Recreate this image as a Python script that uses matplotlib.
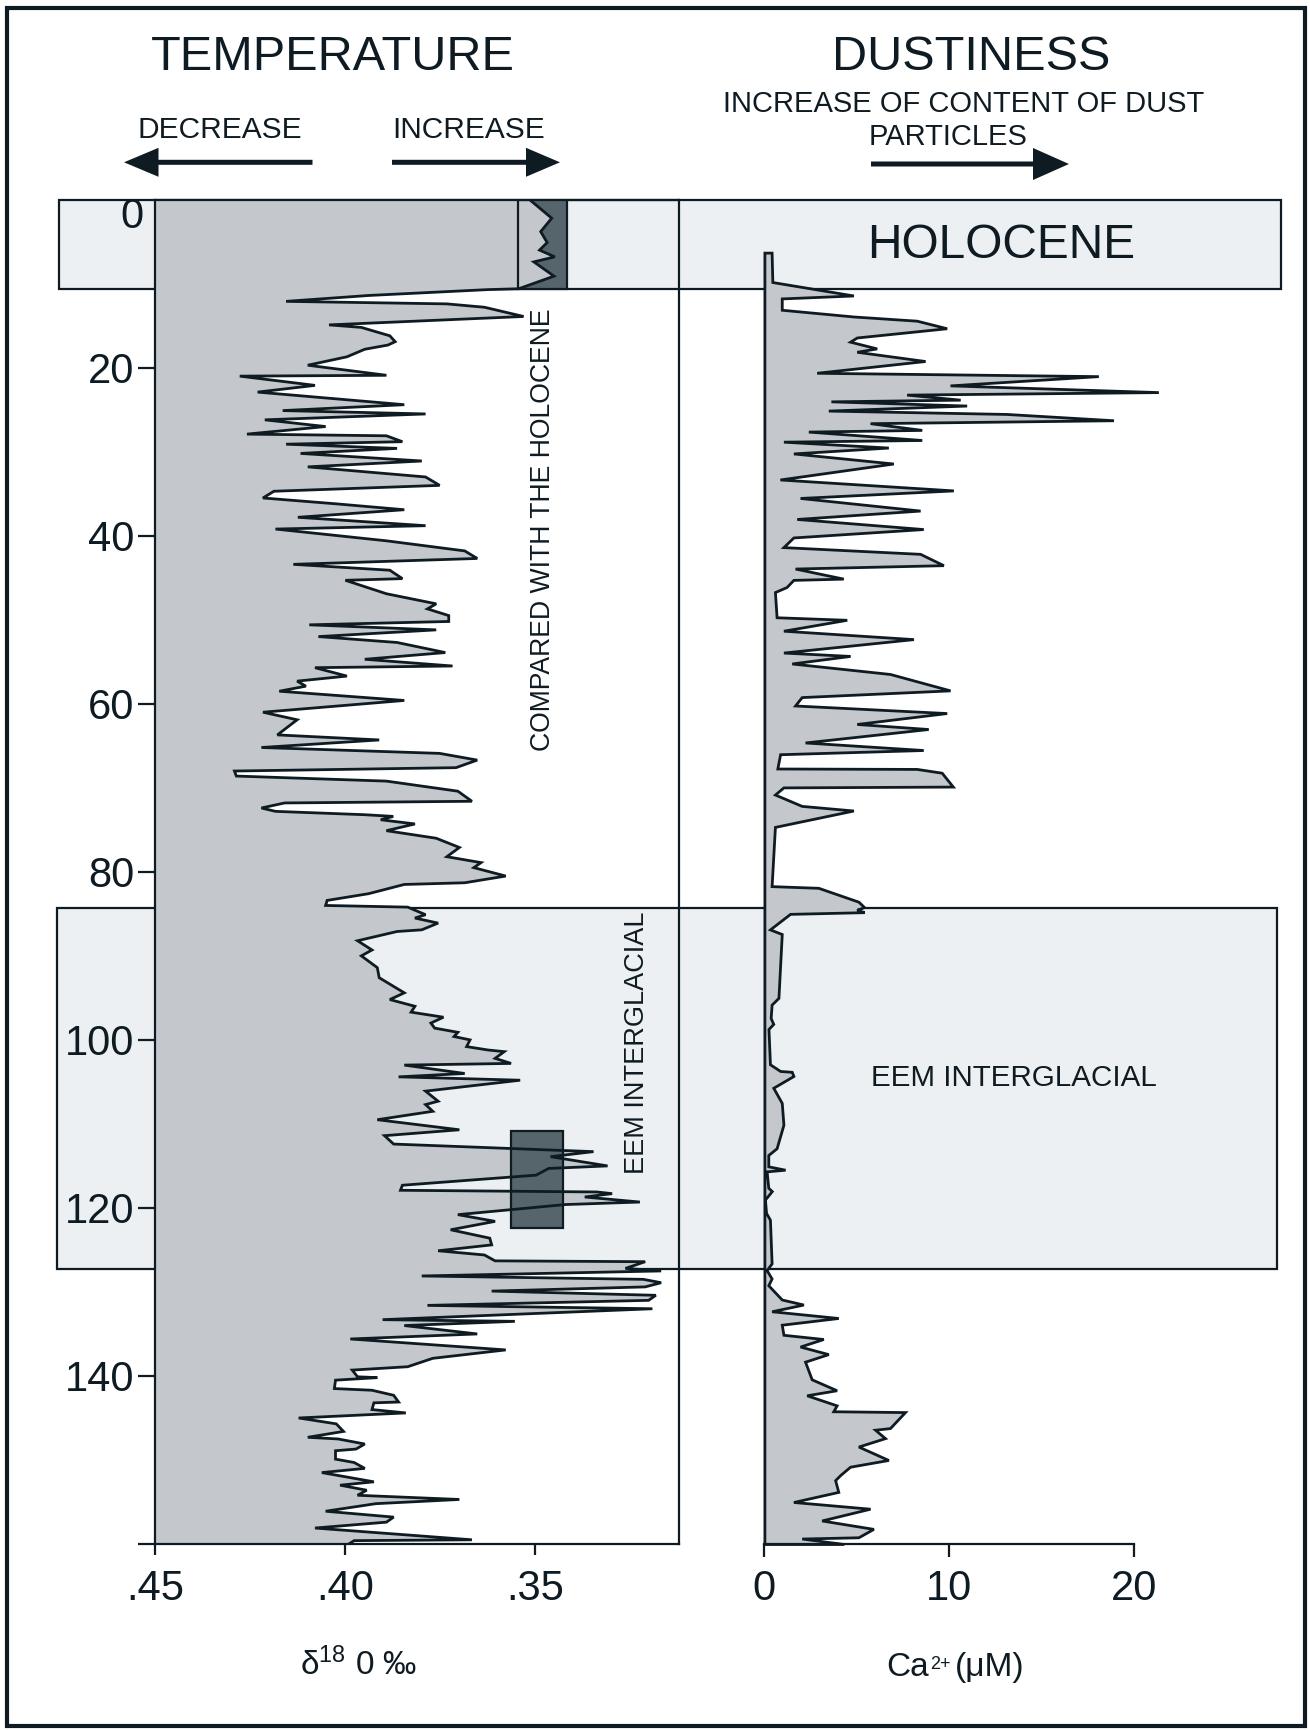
import numpy as np
import matplotlib
matplotlib.use("Agg")
import matplotlib.pyplot as plt
import matplotlib.transforms as mtransforms
from matplotlib.patches import Rectangle, FancyArrow

plt.rcParams['font.family'] = ['Liberation Sans', 'DejaVu Sans']
plt.rcParams['mathtext.fontset'] = 'custom'
plt.rcParams['mathtext.rm'] = 'Liberation Sans'
plt.rcParams['mathtext.it'] = 'Liberation Sans'

# ---------------- data ----------------
# age (thousand years before present) and delta-18O for the temperature record
age_t = [
    0.0, 2.2, 3.8, 5.1, 6.0, 6.8, 7.4, 9.1, 10.6, 10.7,
    11.4, 12.1, 12.4, 12.8, 13.9, 14.9, 15.2, 16.2, 16.9, 17.3,
    17.8, 18.7, 19.7, 20.9, 21.0, 22.1, 22.9, 24.4, 25.1, 25.5,
    26.2, 27.0, 27.9, 28.1, 28.8, 29.1, 29.6, 30.2, 31.1, 31.8,
    33.0, 34.0, 34.7, 35.5, 36.2, 36.9, 37.8, 38.8, 39.2, 40.6,
    41.8, 42.7, 43.4, 44.1, 45.1, 45.3, 46.9, 48.1, 48.7, 49.5,
    50.2, 50.6, 51.2, 52.0, 52.7, 53.9, 54.7, 55.5, 55.7, 56.7,
    57.3, 57.9, 58.5, 59.6, 61.0, 61.9, 63.7, 64.3, 65.2, 65.9,
    66.7, 67.6, 68.0, 68.6, 69.2, 70.4, 71.6, 71.8, 72.4, 72.8,
    73.2, 73.4, 73.8, 74.3, 75.1, 76.0, 77.1, 78.2, 78.9, 79.5,
    80.5, 81.3, 81.5, 82.6, 83.4, 84.0, 84.2, 85.1, 85.5, 86.1,
    86.9, 87.1, 87.5, 88.2, 89.3, 90.0, 91.4, 92.6, 94.4, 95.2,
    96.0, 96.7, 97.3, 98.0, 98.6, 99.1, 99.6, 100.0, 100.8, 101.2,
    101.4, 102.2, 102.8, 103.0, 104.0, 104.4, 104.8, 106.1, 107.3, 107.7,
    108.5, 109.5, 110.7, 111.4, 112.4, 113.3, 113.9, 115.0, 115.3, 116.1,
    117.3, 117.9, 118.1, 118.3, 118.7, 119.3, 119.6, 120.8, 121.6, 122.6,
    123.6, 124.4, 125.1, 125.6, 126.3, 126.4, 127.2, 127.5, 128.1, 128.5,
    128.9, 129.4, 129.9, 130.4, 131.0, 131.6, 132.0, 133.3, 133.5, 134.0,
    135.0, 135.6, 136.9, 137.9, 138.9, 139.3, 140.1, 140.2, 140.5, 141.5,
    141.7, 142.3, 143.1, 143.2, 144.0, 144.4, 145.0, 145.7, 146.6, 147.3,
    147.5, 148.1, 148.7, 148.9, 149.9, 150.3, 151.0, 151.5, 152.6, 153.0,
    153.6, 154.2, 154.7, 155.2, 156.1, 156.8, 157.4, 158.1, 159.5, 159.6,
    160.0,
]
d18o = [
    .3515, .3457, .3486, .3469, .3489, .3449, .3504, .3451, .3544, .3625,
    .3939, .4156, .3733, .3634, .3531, .4043, .3958, .3883, .3869, .3888,
    .3949, .3996, .4099, .3892, .4278, .4080, .4231, .3845, .4165, .3789,
    .4212, .4052, .4259, .3892, .3850, .4156, .3864, .4118, .3799, .4099,
    .3789, .3752, .4188, .4217, .4024, .3845, .4125, .3789, .4184, .3892,
    .3686, .3653, .4137, .3883, .3850, .4000, .3892, .3761, .3784, .3728,
    .3728, .4095, .3761, .4071, .3864, .3737, .3949, .3718, .4080, .3996,
    .4127, .4104, .4174, .3845, .4217, .4127, .4179, .3911, .4221, .3752,
    .3653, .3709, .4292, .4287, .3892, .3704, .3667, .4160, .4221, .4184,
    .3949, .3874, .3907, .3817, .3892, .3761, .3700, .3733, .3643, .3662,
    .3578, .3686, .3845, .3939, .4048, .4052, .3836, .3789, .3817, .3756,
    .3799, .3864, .3902, .3968, .3930, .3958, .3916, .3911, .3845, .3883,
    .3817, .3827, .3742, .3775, .3765, .3704, .3714, .3672, .3681, .3625,
    .3582, .3606, .3564, .3845, .3686, .3860, .3540, .3789, .3756, .3789,
    .3770, .3916, .3700, .3897, .3873, .3347, .3460, .3310, .3465, .3498,
    .3850, .3855, .3338, .3298, .3370, .3225, .3422, .3704, .3606, .3723,
    .3620, .3615, .3756, .3634, .3606, .3211, .3263, .3169, .3799, .3216,
    .3169, .3211, .3615, .3183, .3202, .3784, .3192, .3902, .3554, .3845,
    .3653, .3987, .3578, .3770, .3836, .3982, .3968, .3916, .4026, .4029,
    .3930, .3873, .3860, .3925, .3930, .3841, .4123, .4024, .4005, .4099,
    .4019, .3949, .3972, .4026, .4026, .3977, .3949, .4062, .3925, .4014,
    .3944, .3968, .3700, .3920, .4052, .3873, .3892, .4080, .3667, .3977,
    .3991,
]

# age and Ca2+ concentration (microM) for the dust record
age_ca = [
    6.3, 9.8, 11.4, 11.75, 13.1, 13.9, 14.4, 15.3, 16.4, 16.9,
    17.7, 18.1, 19.2, 20.6, 21.0, 22.1, 22.9, 23.2, 23.8, 24.0,
    24.5, 25.1, 25.5, 26.25, 26.6, 27.4, 27.6, 28.6, 28.8, 29.5,
    30.2, 31.4, 33.3, 34.6, 35.5, 37.0, 38.0, 39.2, 40.2, 41.35,
    42.15, 43.5, 43.9, 45.1, 45.25, 46.1, 46.7, 49.7, 50.0, 51.3,
    52.3, 53.9, 54.3, 55.2, 56.45, 58.4, 59.2, 60.2, 61.1, 62.4,
    63.0, 64.6, 65.5, 66.0, 67.7, 67.75, 68.2, 69.85, 69.95, 70.8,
    72.15, 72.7, 74.65, 81.7, 81.9, 83.55, 84.2, 84.5, 84.8, 85.0,
    86.85, 87.4, 95.0, 95.8, 97.4, 98.1, 98.7, 102.9, 103.7, 103.8,
    104.3, 105.7, 107.5, 110.1, 112.9, 113.7, 115.05, 115.45, 115.65, 117.6,
    118.0, 119.0, 120.6, 121.4, 126.6, 127.4, 128.4, 129.2, 130.9, 131.5,
    132.3, 133.1, 133.9, 135.1, 135.6, 136.5, 137.4, 138.3, 140.4, 141.7,
    142.3, 143.5, 144.2, 144.3, 146.2, 146.4, 147.4, 148.4, 150.0, 150.8,
    151.8, 152.4, 153.8, 155.0, 155.8, 157.2, 158.2, 159.2, 159.35, 160.0,
]
ca = [
    0.39, 0.43, 4.82, 0.94, 0.94, 4.82, 8.25, 9.87, 5.0, 4.64,
    6.08, 5.0, 8.7, 2.83, 18.08, 10.05, 21.33, 7.7, 10.6, 3.6,
    10.95, 3.46, 13.1, 18.9, 5.72, 8.52, 2.38, 8.52, 1.03, 6.71,
    1.57, 6.98, 0.84, 10.23, 1.93, 8.43, 1.75, 8.6, 1.57, 1.03,
    8.43, 9.69, 1.66, 4.27, 1.57, 1.2, 0.57, 0.66, 4.46, 1.03,
    8.07, 1.03, 4.64, 1.48, 6.8, 10.05, 2.02, 1.66, 9.87, 5.0,
    8.87, 2.2, 8.6, 0.85, 0.7, 8.25, 9.6, 10.2, 1.03, 0.57,
    2.02, 4.82, 0.57, 0.39, 2.92, 5.09, 5.4, 5.0, 5.4, 1.39,
    0.3, 0.94, 0.76, 0.39, 0.34, 0.48, 0.22, 0.3, 0.85, 1.48,
    1.57, 0.48, 0.94, 1.03, 0.66, 0.21, 0.21, 1.12, 0.12, 0.21,
    0.4, 0.03, 0.09, 0.3, 0.39, 0.12, 0.39, 0.21, 0.94, 2.11,
    0.39, 4.0, 0.94, 1.03, 3.19, 1.93, 3.46, 2.2, 2.56, 3.91,
    2.29, 3.91, 3.73, 7.61, 6.8, 5.99, 6.53, 5.09, 6.71, 4.64,
    4.1, 3.83, 4.0, 1.57, 5.72, 3.1, 5.9, 5.09, 2.02, 4.3,
]

holocene = (0.0, 10.6)          # ka
eem = (84.3, 127.3)             # ka
holo_rect_d18o = (0.3546, 0.3417)
eem_rect_d18o = (0.3565, 0.3427)
eem_rect_age = (110.8, 122.4)

d18o_ticks = [0.45, 0.40, 0.35]
d18o_labels = ['.45', '.40', '.35']
age_ticks = [20, 40, 60, 80, 100, 120, 140, 160]
age_labels = ['20', '40', '60', '80', '100', '120', '140', '']
ca_ticks = [0, 10, 20]

# ---------------- style ----------------
INK = '#0f1b22'
FILL = '#c4c8cc'
LIGHT = '#edf0f2'
DARK = '#56646b'

W, H = 1310, 1730
fig = plt.figure(figsize=(W / 100, H / 100), dpi=100)
fig.patch.set_facecolor('white')

ov = fig.add_axes([0, 0, 1, 1], zorder=0)
ov.set_xlim(0, W)
ov.set_ylim(H, 0)
ov.axis('off')


def fx(px):
    return px / W


def fy(py):
    return 1 - py / H


top_px, bot_px = 199.7, 1544
axL = fig.add_axes([fx(155.4), fy(bot_px), fx(679) - fx(155.4), fy(top_px) - fy(bot_px)], zorder=1)
axR = fig.add_axes([fx(764.4), fy(bot_px), fx(1133.8) - fx(764.4), fy(top_px) - fy(bot_px)], zorder=1)
for ax in (axL, axR):
    ax.patch.set_visible(False)
    ax.set_ylim(160, 0)
axL.set_xlim(0.45, 0.3122)
axR.set_xlim(0, 20)

age_t = np.array(age_t)
d18o = np.array(d18o)

# background period boxes (x in page pixels, y in age)
tb = mtransforms.blended_transform_factory(ov.transData, axL.transData)
ov.add_patch(Rectangle((59, holocene[0]), 1281 - 59, holocene[1] - holocene[0], transform=tb,
                       fc=LIGHT, ec=INK, lw=1.6))
ov.add_patch(Rectangle((57, eem[0]), 1277 - 57, eem[1] - eem[0], transform=tb,
                       fc=LIGHT, ec=INK, lw=1.6))

# temperature panel
axL.fill_betweenx(age_t, 0.45, d18o, fc=FILL, ec='none', zorder=2)
m = age_t <= holocene[1]
axL.fill_betweenx(age_t[m], d18o[m], holo_rect_d18o[1], fc=DARK, ec='none', zorder=3)
axL.add_patch(Rectangle((holo_rect_d18o[0], holocene[0]), holo_rect_d18o[1] - holo_rect_d18o[0],
                        holocene[1] - holocene[0], fill=False, ec=INK, lw=1.6, zorder=4))
axL.add_patch(Rectangle((eem_rect_d18o[0], eem_rect_age[0]), eem_rect_d18o[1] - eem_rect_d18o[0],
                        eem_rect_age[1] - eem_rect_age[0], fc=DARK, ec=INK, lw=1.6, zorder=3))
axL.plot(d18o, age_t, color=INK, lw=2.0, zorder=5, solid_joinstyle='miter')

for s in axL.spines.values():
    s.set_linewidth(1.6)
    s.set_color(INK)
axL.set_yticks(age_ticks)
axL.set_yticklabels(age_labels)
axL.set_xticks(d18o_ticks)
axL.set_xticklabels(d18o_labels)
axL.tick_params(axis='y', direction='out', length=12, width=1.6, pad=3,
                labelsize=30, colors=INK)
axL.tick_params(axis='x', direction='out', length=8, width=1.6, pad=10,
                labelsize=30, colors=INK)

# dust panel
axR.fill_betweenx(age_ca, 0, ca, fc=FILL, ec=INK, lw=2.0, zorder=2,
                  clip_on=False, joinstyle='miter')
for k in ('left', 'top', 'right'):
    axR.spines[k].set_visible(False)
axR.spines['bottom'].set_linewidth(1.6)
axR.spines['bottom'].set_color(INK)
axR.set_yticks([])
axR.set_xticks(ca_ticks)
axR.set_xticklabels([str(t) for t in ca_ticks])
axR.tick_params(axis='x', direction='out', length=9, width=1.6, pad=9,
                labelsize=30, colors=INK)

# texts
ov.text(143, 2.0, '0', transform=tb, ha='right', va='center', fontsize=30, color=INK)
ov.text(332.5, 57.5, 'TEMPERATURE', ha='center', va='center', fontsize=35, color=INK)
ov.text(971, 58, 'DUSTINESS', ha='center', va='center', fontsize=35, color=INK)
ov.text(220, 130, 'DECREASE', ha='center', va='center', fontsize=21.5, color=INK)
ov.text(468.5, 130, 'INCREASE', ha='center', va='center', fontsize=21.5, color=INK)
ov.text(963.6, 104.5, 'INCREASE OF CONTENT OF DUST', ha='center', va='center', fontsize=21, color=INK)
ov.text(948, 137, 'PARTICLES', ha='center', va='center', fontsize=21, color=INK)
ov.text(1001.5, 246, 'HOLOCENE', ha='center', va='center', fontsize=34.5, color=INK)
ov.text(1014, 1078, 'EEM INTERGLACIAL', ha='center', va='center', fontsize=21.3, color=INK)
ov.text(543.5, 530, 'COMPARED WITH THE HOLOCENE', ha='center', va='center',
        rotation=90, fontsize=19.2, color=INK)
ov.text(637, 1043, 'EEM INTERGLACIAL', ha='center', va='center',
        rotation=90, fontsize=19.5, color=INK)
ov.text(359, 1665, r'δ$^{\mathregular{18}}$ 0 ‰', ha='center', va='center', fontsize=24, color=INK)
# Ca label: base text on a baseline, small superscript, then the unit
ca_txt = ov.text(886, 1676, 'Ca', ha='left', va='baseline', fontsize=24, color=INK)
ov.annotate('2+', xy=(1, 0), xycoords=ca_txt, xytext=(1, 10), textcoords='offset points',
            ha='left', va='baseline', fontsize=13, color=INK)
ov.annotate('(μM)', xy=(1, 0), xycoords=ca_txt, xytext=(19, 0), textcoords='offset points',
            ha='left', va='bottom', fontsize=24, color=INK)

# arrows
ov.add_patch(FancyArrow(312.5, 162.3, -188.5, 0, width=5, head_width=29, head_length=34.5,
                        length_includes_head=True, fc=INK, ec='none'))
ov.add_patch(FancyArrow(392, 162.3, 168, 0, width=5, head_width=29, head_length=34,
                        length_includes_head=True, fc=INK, ec='none'))
ov.add_patch(FancyArrow(871, 164, 198, 0, width=5, head_width=32, head_length=36,
                        length_includes_head=True, fc=INK, ec='none'))

# outer border
ov.add_patch(Rectangle((7, 8), 1298, 1718, fill=False, ec=INK, lw=3))

fig.savefig('out.png', dpi=100, facecolor='white')
